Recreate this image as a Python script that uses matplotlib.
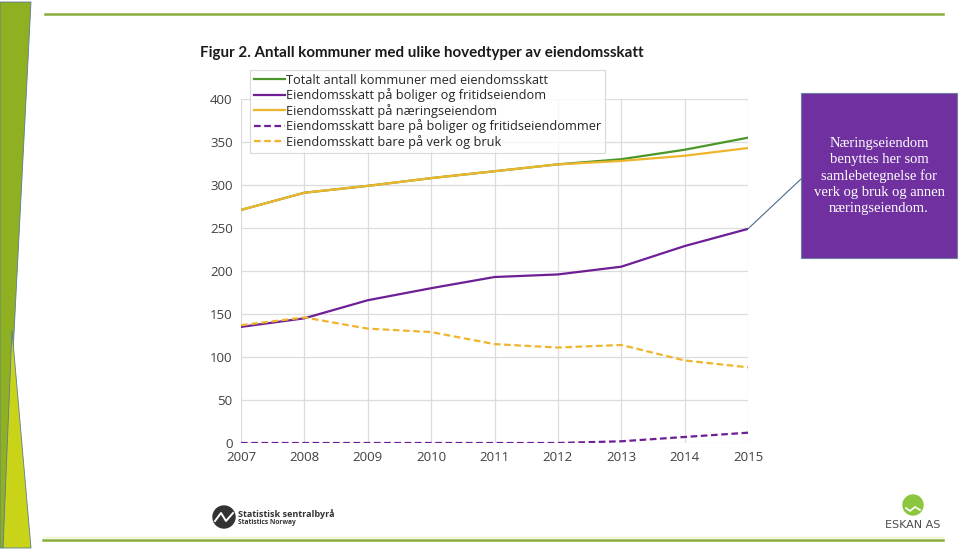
import matplotlib.pyplot as plt
from matplotlib.patches import Polygon, Rectangle, Circle, ConnectionPatch

# data
years = [2007, 2008, 2009, 2010, 2011, 2012, 2013, 2014, 2015]
totalt = [271, 291, 299, 308, 316, 324, 330, 341, 355]
boliger = [135, 145, 166, 180, 193, 196, 205, 229, 249]
naering = [271, 291, 299, 308, 316, 324, 328, 334, 343]
bare_boliger = [0, 0, 0, 0, 0, 0, 2, 7, 12]
bare_verk = [137, 146, 133, 129, 115, 111, 114, 96, 88]

labels = [
    "Totalt antall kommuner med eiendomsskatt",
    "Eiendomsskatt på boliger og fritidseiendom",
    "Eiendomsskatt på næringseiendom",
    "Eiendomsskatt bare på boliger og fritidseiendommer",
    "Eiendomsskatt bare på verk og bruk",
]
title = "Figur 2. Antall kommuner med ulike hovedtyper av eiendomsskatt"
note = "Næringseiendom\nbenyttes her som\nsamlebetegnelse for\nverk og bruk og annen\nnæringseiendom."

GREEN = "#4a9629"
PURPLE = "#6e1f96"
GOLD = "#efb52c"

plt.rcParams['font.family'] = ['Open Sans', 'DejaVu Sans']

W, H = 959, 553
fig = plt.figure(figsize=(W / 100, H / 100), dpi=100)

# slide decoration layer (pixel coordinates)
deco = fig.add_axes([0, 0, 1, 1])
deco.set_xlim(0, W)
deco.set_ylim(H, 0)
deco.axis("off")
deco.add_patch(Polygon([(0, 2), (31, 2), (3, 548), (0, 548)], closed=True,
                       facecolor="#8fb020", edgecolor="#5b7a9a", lw=0.6))
deco.add_patch(Polygon([(12, 330), (31, 548), (3, 548)], closed=True,
                       facecolor="#c9d318", edgecolor="#5b7a9a", lw=0.6))
deco.plot([45, 943], [14, 14], color="#8aac3c", lw=1.8)
deco.plot([43, 943], [540, 540], color="#8aac3c", lw=1.8)
deco.plot([43, 943], [537, 537], color="#eef2c8", lw=1)

# callout box
deco.add_patch(Rectangle((801, 93), 156, 165, facecolor="#7030a0",
                         edgecolor="#6f7fa0", lw=0.8))
deco.text(879, 176, note, ha="center", va="center", color="white",
          fontsize=10.5, family="Liberation Serif", linespacing=1.3)

# logos
deco.add_patch(Circle((224, 517), 11, color="#333333"))
deco.plot([215, 221, 226, 233], [521, 513, 521, 513], color="white", lw=1.4)
deco.text(238, 514, "Statistisk sentralbyrå", fontsize=6.5, fontweight="bold",
          color="#333333", va="center")
deco.text(238, 522, "Statistics Norway", fontsize=4.8, fontweight="bold",
          color="#333333", va="center")
deco.add_patch(Circle((913, 505), 10, color="#8cc63f"))
deco.plot([906, 910, 915, 920], [508, 511, 507, 510], color="white", lw=1.2)
deco.text(913, 525, "ESKAN AS", fontsize=8, color="#4d4d4d",
          ha="center", va="center", family="Liberation Sans Narrow")

# title
fig.text(200 / W, 1 - 53 / H, title, fontsize=10.9, fontweight="bold",
         family="Lato", color="#1a1a1a", va="center")

# chart
ax = fig.add_axes([241 / W, 1 - 443 / H, 507 / W, 344 / H])
ax.plot(years, totalt, color=GREEN, lw=1.6, label=labels[0])
ax.plot(years, boliger, color=PURPLE, lw=1.6, label=labels[1])
ax.plot(years, naering, color=GOLD, lw=1.6, label=labels[2])
ax.plot(years, bare_boliger, color=PURPLE, lw=1.6, ls=(0, (3, 1.6)), label=labels[3])
ax.plot(years, bare_verk, color=GOLD, lw=1.6, ls=(0, (3, 1.6)), label=labels[4])

ax.set_xlim(years[0], years[-1])
ax.set_ylim(0, 400)
ax.set_xticks(years)
ax.set_yticks(range(0, 401, 50))
ax.grid(True, color="#dcdcdc", lw=0.9)
ax.set_axisbelow(True)
for s in ax.spines.values():
    s.set_visible(False)
ax.tick_params(length=0, labelsize=9.5, labelcolor="#404040", pad=6)

leg = ax.legend(loc="upper left", bbox_to_anchor=(250 / W, 1 - 70 / H),
                bbox_transform=fig.transFigure, fontsize=9.2, frameon=True,
                fancybox=False, handlelength=2.4, handletextpad=0.1,
                labelspacing=0.12, borderpad=0.3, borderaxespad=0)
leg.get_frame().set_edgecolor("#d0d0d0")
leg.get_frame().set_linewidth(0.8)
for t in leg.get_texts():
    t.set_color("#262626")

# connector from last purple point to the callout
con = ConnectionPatch(xyA=(years[-1], boliger[-1]), coordsA=ax.transData,
                      xyB=(801, 179), coordsB=deco.transData,
                      color="#4a6a8a", lw=0.8)
fig.add_artist(con)

fig.savefig("out.png", dpi=100)
